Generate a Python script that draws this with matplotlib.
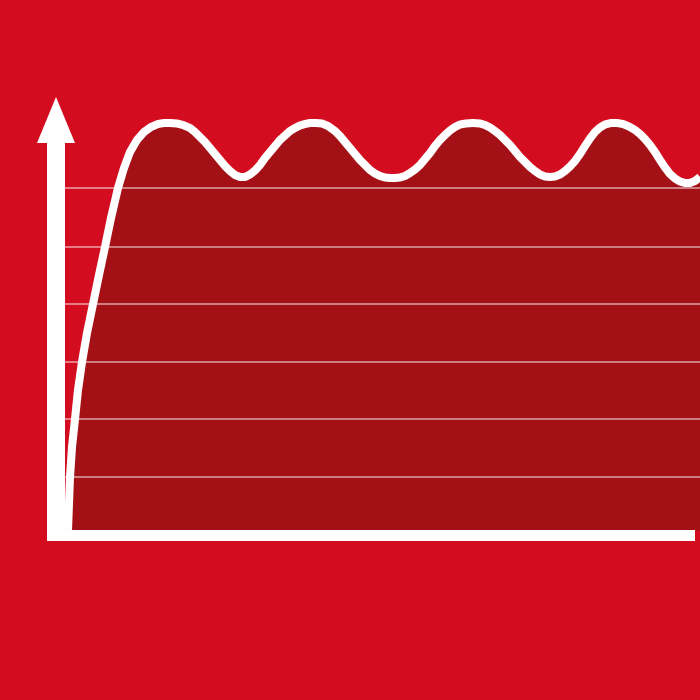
import numpy as np
import matplotlib.pyplot as plt
from matplotlib.patches import Rectangle, Polygon

# colours
BG = '#D40C20'
FILL = '#A31016'

# curve (pixel coordinates, y grows downward)
rise_x = [68, 69, 70, 72, 75, 78, 82, 87, 93, 99, 105, 111, 118, 124, 130, 137,
          144, 151, 158, 164, 170]
rise_y = [530, 503, 477, 447, 419, 390, 362, 333, 304, 275, 247, 218, 188, 168, 152, 140,
          132, 127, 124, 123, 123]

wave1_x = [177, 183, 190, 195, 200, 205, 210, 215, 220, 225, 230, 235, 240, 245,
           250, 255, 260, 265, 270, 275, 280, 285, 290, 295, 300, 305, 310, 316]
wave1_y = [123.5, 125, 128, 132, 137, 142, 148, 154, 160, 166, 171, 175, 177, 177,
           174.5, 170.5, 165, 158, 152, 146, 140, 135.5, 131, 128, 125.5, 124, 123, 123]

wave2_x = [322, 328, 335, 340, 345, 350, 355, 360, 365, 370, 375, 380, 385, 390,
           395, 400, 405, 410, 415, 420, 425, 430, 435, 440, 445, 450, 455, 460,
           466, 473]
wave2_y = [123.5, 126, 131, 136, 142, 148, 154, 160, 165, 170, 173.5, 176, 177.5, 178,
           178, 177.5, 176, 173, 169.5, 165, 159, 153, 146, 140, 135, 130.5, 127, 124.5,
           123.5, 123]

wave3_x = [480, 485, 490, 495, 500, 505, 510, 515, 520, 525, 530, 535, 540, 545,
           550, 555, 560, 565, 570, 575, 580, 585, 590, 595, 600, 605, 611, 617,
           623, 629, 635, 640, 645, 650, 655, 660, 665, 670, 675, 680, 685, 690,
           695, 700]
wave3_y = [123.5, 125, 127.5, 131, 135, 140, 145, 151, 157, 162, 167, 171, 174.5, 176.5,
           177, 176.5, 174.5, 171, 166.5, 161, 154, 146, 138.5, 132, 127.5, 124.5, 123, 123,
           124, 126.5, 130, 134, 139, 145, 152, 160, 167.5, 174, 178.5, 181.5, 183, 183,
           181, 177]

curve_x = rise_x + wave1_x + wave2_x + wave3_x
curve_y = rise_y + wave1_y + wave2_y + wave3_y

grid_y = [188, 247, 304, 362, 419, 477]
baseline = 530

fig = plt.figure(figsize=(7, 7), dpi=100, facecolor=BG)
ax = fig.add_axes([0, 0, 1, 1])
ax.set_facecolor(BG)
ax.set_xlim(0, 700)
ax.set_ylim(700, 0)
ax.axis('off')

ax.fill_between(curve_x, curve_y, baseline, color=FILL, lw=0, zorder=1)
ax.hlines(grid_y, 65, 700, colors='white', alpha=0.6, lw=1.1, zorder=2)
ax.plot(curve_x, curve_y, color='white', lw=5.8, solid_capstyle='butt',
        solid_joinstyle='round', zorder=3)

# axes drawn as white shapes
ax.add_patch(Rectangle((47, 530), 648, 11, color='white', lw=0, zorder=4))
ax.add_patch(Rectangle((47, 140), 18, 401, color='white', lw=0, zorder=4))
ax.add_patch(Polygon([(37, 143), (75, 143), (56, 97)], closed=True,
                     color='white', lw=0, zorder=4))

fig.savefig('out.png', dpi=100, facecolor=BG)
